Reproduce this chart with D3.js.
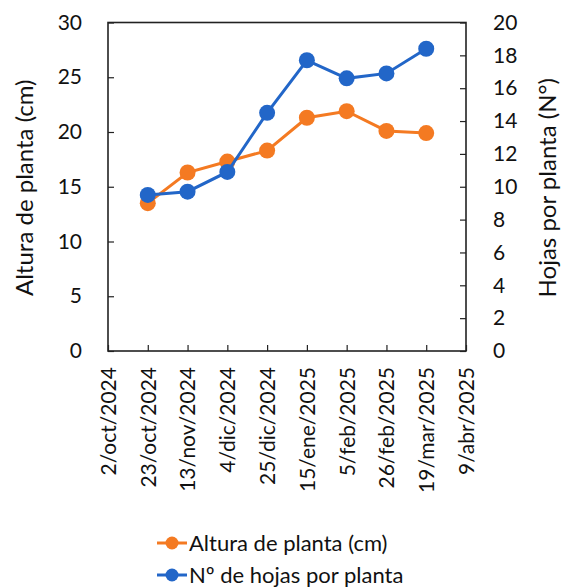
<!DOCTYPE html>
<html>
<head>
<meta charset="utf-8">
<script src="https://cdn.jsdelivr.net/npm/d3@7"></script>
<style>
  html, body { margin: 0; padding: 0; background: #fff; }
  svg { display: block; font-family: Lato, "Open Sans", sans-serif; }
</style>
</head>
<body>
<svg id="chart" width="565" height="587"></svg>
<script>
// ---- data ----
const dates = ["2024-10-23", "2024-11-13", "2024-12-04", "2024-12-25", "2025-01-15", "2025-02-05", "2025-02-26", "2025-03-19"];
const altura = [13.5, 16.3, 17.3, 18.3, 21.3, 21.9, 20.1, 19.9];
const hojas = [9.5, 9.7, 10.9, 14.5, 17.7, 16.6, 16.9, 18.4];
const xTickLabels = ["2/oct/2024", "23/oct/2024", "13/nov/2024", "4/dic/2024", "25/dic/2024", "15/ene/2025", "5/feb/2025", "26/feb/2025", "19/mar/2025", "9/abr/2025"];
const leftTicks = [0, 5, 10, 15, 20, 25, 30];
const rightTicks = [0, 2, 4, 6, 8, 10, 12, 14, 16, 18, 20];
const seriesNames = ["Altura de planta (cm)", "Nº de hojas por planta"];
const seriesColors = ["#F47A22", "#2266C8"];

// ---- layout ----
const svg = d3.select("#chart");
const L = 108, R = 466, T = 22.5, B = 351;
const parse = d3.timeParse("%Y-%m-%d");
const x = d3.scaleTime().domain([parse("2024-10-02"), parse("2025-04-09")]).range([L, R]);
const yL = d3.scaleLinear().domain([0, 30]).range([B, T]);
const yR = d3.scaleLinear().domain([0, 20]).range([B, T]);
const tickDates = d3.range(xTickLabels.length).map(i => d3.timeDay.offset(parse("2024-10-02"), 21 * i));

// frame
svg.append("rect").attr("x", L).attr("y", T).attr("width", R - L).attr("height", B - T)
  .attr("fill", "none").attr("stroke", "#222").attr("stroke-width", 1.6);

// left axis
const axL = svg.append("g").attr("transform", `translate(${L},0)`)
  .call(d3.axisLeft(yL).tickValues(leftTicks).tickSize(-6).tickPadding(26));
// right axis
const axR = svg.append("g").attr("transform", `translate(${R},0)`)
  .call(d3.axisRight(yR).tickValues(rightTicks).tickSize(-6).tickPadding(27));
// bottom axis
const axB = svg.append("g").attr("transform", `translate(0,${B})`)
  .call(d3.axisBottom(x).tickValues(tickDates).tickSize(-6).tickFormat((d, i) => xTickLabels[i]));

[axL, axR, axB].forEach(g => {
  g.select(".domain").remove();
  g.selectAll(".tick line").attr("stroke", "#222").attr("stroke-width", 1.2);
  g.selectAll(".tick text").attr("fill", "#111").style("font-size", "21px").style("font-family", "Lato, 'Open Sans', sans-serif");
});
axB.selectAll(".tick text")
  .attr("transform", "rotate(-90)")
  .attr("text-anchor", "end")
  .attr("x", -16).attr("y", 0).attr("dy", "0.35em");

// axis titles
svg.append("text").attr("transform", `translate(33,${(T + B) / 2 + 1}) rotate(-90)`)
  .attr("text-anchor", "middle").style("font-size", "24px").attr("fill", "#111")
  .text("Altura de planta (cm)");
svg.append("text").attr("transform", `translate(556,${(T + B) / 2 + 1}) rotate(-90)`)
  .attr("text-anchor", "middle").style("font-size", "24px").attr("fill", "#111")
  .text("Hojas por planta (N°)");

// series
const series = [
  { vals: altura, y: yL, color: seriesColors[0] },
  { vals: hojas, y: yR, color: seriesColors[1] }
];
series.forEach(s => {
  const pts = dates.map((d, i) => [x(parse(d)), s.y(s.vals[i])]);
  svg.append("path").attr("d", d3.line()(pts)).attr("fill", "none")
    .attr("stroke", s.color).attr("stroke-width", 3);
  svg.append("g").selectAll("circle").data(pts).join("circle")
    .attr("cx", d => d[0]).attr("cy", d => d[1]).attr("r", 8).attr("fill", s.color);
});

// legend
const leg = svg.append("g");
seriesNames.forEach((name, i) => {
  const cy = 543 + i * 32;
  leg.append("line").attr("x1", 157).attr("x2", 187).attr("y1", cy).attr("y2", cy)
    .attr("stroke", seriesColors[i]).attr("stroke-width", 3);
  leg.append("circle").attr("cx", 172).attr("cy", cy).attr("r", 6.5).attr("fill", seriesColors[i]);
  leg.append("text").attr("x", 189).attr("y", cy).attr("dy", "0.35em")
    .style("font-size", "22px").attr("fill", "#111").text(name);
});
</script>
</body>
</html>
